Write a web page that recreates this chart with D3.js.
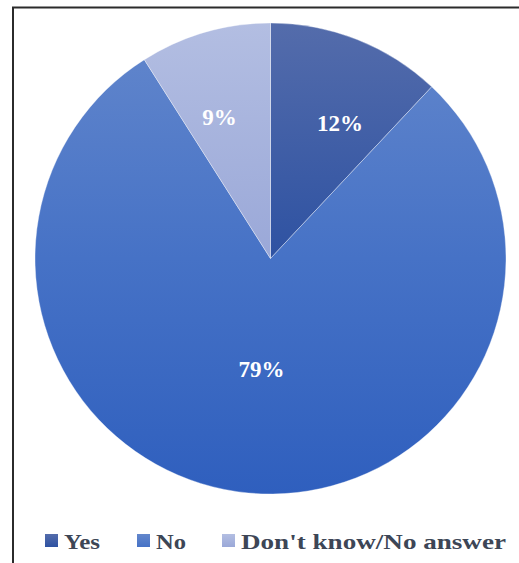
<!DOCTYPE html>
<html>
<head>
<meta charset="utf-8">
<script src="https://cdn.jsdelivr.net/npm/d3@7"></script>
<style>
  html, body { margin: 0; padding: 0; background: #fff; }
  svg { display: block; }
</style>
</head>
<body>
<svg id="chart" width="519" height="563"></svg>
<script>
// Survey answers (percent of respondents)
const categories = ["Yes", "No", "Don't know/No answer"];
const values = [12, 79, 9];
const labels = ["12%", "79%", "9%"];
// Each slice is shaded top-to-bottom: [light, mid, dark]
const shades = [
  ["#546cab", "#2e52a2", "#1f4597"],
  ["#6387cc", "#4672c6", "#2f5fbe"],
  ["#b3bee2", "#9aa8d8", "#8797cf"]
];

const W = 519, H = 563;
const cx = 270.5, cy = 258.5, R = 235.5;
const serif = "'Palatino Linotype','Book Antiqua',Palatino,'Liberation Serif','DejaVu Serif',serif";

const svg = d3.select("#chart");

// frame lines along the top and left
svg.append("path")
  .attr("d", `M13,${H} L13,7.5 L${W},7.5`)
  .attr("fill", "none")
  .attr("stroke", "#2b2b2b")
  .attr("stroke-width", 2);

const defs = svg.append("defs");
shades.forEach((s, i) => {
  const g = defs.append("linearGradient")
    .attr("id", "grad" + i)
    .attr("gradientUnits", "userSpaceOnUse")
    .attr("x1", 0).attr("x2", 0)
    .attr("y1", -R).attr("y2", R);
  g.append("stop").attr("offset", "0%").attr("stop-color", s[0]);
  g.append("stop").attr("offset", "50%").attr("stop-color", s[1]);
  g.append("stop").attr("offset", "100%").attr("stop-color", s[2]);
});

const pie = d3.pie().sort(null).value(d => d)(values);
const arc = d3.arc().innerRadius(0).outerRadius(R);

const g = svg.append("g").attr("transform", `translate(${cx},${cy})`);
g.selectAll("path.slice")
  .data(pie)
  .join("path")
  .attr("class", "slice")
  .attr("d", arc)
  .attr("fill", (d, i) => `url(#grad${i})`)
  .attr("stroke", "rgba(255,255,255,0.45)")
  .attr("stroke-width", 0.8);

// percentage labels: polar placement (radius fraction, angle nudge in radians)
const labelPlace = [[0.647, 0.097], [0.471, -0.013], [0.639, -0.063]];
g.selectAll("text.pct")
  .data(pie)
  .join("text")
  .attr("class", "pct")
  .attr("transform", (d, i) => {
    const a = (d.startAngle + d.endAngle) / 2 + labelPlace[i][1];
    const r = R * labelPlace[i][0];
    return `translate(${r * Math.sin(a)},${-r * Math.cos(a)})`;
  })
  .attr("text-anchor", "middle")
  .attr("dy", "0.34em")
  .attr("fill", "#fff")
  .attr("font-family", serif)
  .attr("font-weight", "bold")
  .attr("font-size", 23)
  .text((d, i) => labels[i]);

// legend
const legendX = [45, 137, 222];
const legendTextW = [36, 30, 265];
const legend = svg.append("g").attr("transform", "translate(0,541)");
categories.forEach((c, i) => {
  defs.append("linearGradient")
    .attr("id", "lg" + i)
    .attr("x1", 0).attr("x2", 0).attr("y1", 0).attr("y2", 1)
    .call(gr => {
      gr.append("stop").attr("offset", "0%").attr("stop-color", shades[i][0]);
      gr.append("stop").attr("offset", "100%").attr("stop-color", shades[i][1]);
    });
  legend.append("rect")
    .attr("x", legendX[i]).attr("y", -7)
    .attr("width", 13).attr("height", 13)
    .attr("fill", `url(#lg${i})`);
  legend.append("text")
    .attr("x", legendX[i] + 19).attr("y", 0)
    .attr("dy", "0.35em")
    .attr("fill", "#3d4656")
    .attr("font-family", serif)
    .attr("font-weight", "bold")
    .attr("font-size", 22)
    .attr("textLength", legendTextW[i])
    .attr("lengthAdjust", "spacingAndGlyphs")
    .text(c);
});
</script>
</body>
</html>
